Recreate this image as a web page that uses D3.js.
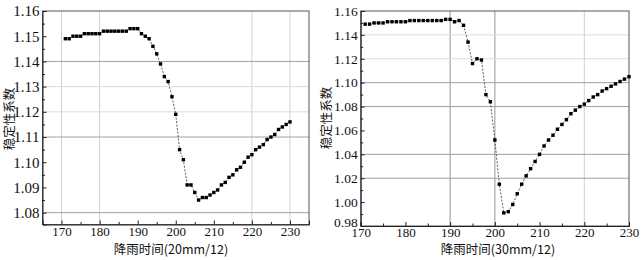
<!DOCTYPE html>
<html>
<head>
<meta charset="utf-8">
<script src="https://d3js.org/d3.v7.min.js"></script>
<style>
 body { margin: 0; background: #fff; }
 .domain { stroke: #222; }
 .tick line { stroke: #222; }
 .tick text { font-family: "Liberation Serif", "Times New Roman", serif !important; fill: #111; }
 .title { font-family: "Noto Sans CJK SC", sans-serif; font-size: 12.5px; fill: #111; }
 .series { fill: none; stroke: #333; stroke-width: 0.8; stroke-dasharray: 2,1.5; }
 .pt { fill: #000; }
</style>
</head>
<body>
<div id="chart"></div>
<script>
// rainfall time steps (same for both panels)
var times = [171,172,173,174,175,176,177,178,179,180,
             181,182,183,184,185,186,187,188,189,190,
             191,192,193,194,195,196,197,198,199,200,
             201,202,203,204,205,206,207,208,209,210,
             211,212,213,214,215,216,217,218,219,220,
             221,222,223,224,225,226,227,228,229,230];

// stability factor, 20mm/12
var fs20 = [1.149,1.149,1.150,1.150,1.150,1.151,1.151,1.151,1.151,1.151,
            1.152,1.152,1.152,1.152,1.152,1.152,1.152,1.153,1.153,1.153,
            1.151,1.150,1.149,1.146,1.143,1.139,1.134,1.132,1.126,1.119,
            1.105,1.101,1.091,1.091,1.088,1.085,1.086,1.086,1.087,1.088,
            1.089,1.091,1.092,1.094,1.095,1.097,1.098,1.100,1.102,1.103,
            1.105,1.106,1.107,1.109,1.110,1.111,1.113,1.114,1.115,1.116];

// stability factor, 30mm/12
var fs30 = [1.149,1.149,1.150,1.150,1.150,1.151,1.151,1.151,1.151,1.151,
            1.152,1.152,1.152,1.152,1.152,1.152,1.152,1.152,1.153,1.153,
            1.151,1.152,1.148,1.134,1.116,1.120,1.119,1.090,1.084,1.052,
            1.015,0.991,0.992,0.998,1.007,1.015,1.022,1.028,1.034,1.040,
            1.047,1.052,1.056,1.061,1.065,1.069,1.074,1.077,1.080,1.082,
            1.085,1.088,1.090,1.093,1.095,1.097,1.099,1.101,1.103,1.105];

var xTicks = [170,180,190,200,210,220,230];
var xMinor = [175,185,195,205,215,225];
var yTicksL = [1.08,1.09,1.10,1.11,1.12,1.13,1.14,1.15,1.16];
var yMinorL = [1.085,1.095,1.105,1.115,1.125,1.135,1.145,1.155];
var yTicksR = [0.98,1.00,1.02,1.04,1.06,1.08,1.10,1.12,1.14,1.16];
var yMinorR = [0.99,1.01,1.03,1.05,1.07,1.09,1.11,1.13,1.15];

// grid lines that show in the figure
var gridXL = [170,180,220,230];
var gridYL_dark = [1.14,1.11,1.08];
var gridYL_light = [1.13,1.12];
var gridXR_dark = [190,200];
var gridXR_light = [220];
var gridYR_dark = [1.10,1.08,1.04,1.02];
var gridYR_light = [1.14,1.12];

var yTitle = "稳定性系数";
var xTitleL = "降雨时间(20mm/12)";
var xTitleR = "降雨时间(30mm/12)";

var serif = "Liberation Serif";

var svg = d3.select("#chart").append("svg")
  .attr("width", 641)
  .attr("height", 260);

function drawPanel(o) {
  var x = d3.scaleLinear().domain(o.xDomain).range([o.left, o.right]);
  var y = d3.scaleLinear().domain(o.yDomain).range([o.bottom, o.top]);
  var g = svg.append("g");

  // grid
  g.selectAll(".gxl").data(o.gridXLight).enter().append("line")
    .attr("x1", d => x(d)).attr("x2", d => x(d))
    .attr("y1", o.top).attr("y2", o.bottom)
    .attr("stroke", "#d0d0d0").attr("stroke-width", 1);
  g.selectAll(".gxd").data(o.gridXDark).enter().append("line")
    .attr("x1", d => x(d)).attr("x2", d => x(d))
    .attr("y1", o.top).attr("y2", o.bottom)
    .attr("stroke", "#a8a8a8").attr("stroke-width", 1.2);
  g.selectAll(".gyl").data(o.gridYLight).enter().append("line")
    .attr("x1", o.left).attr("x2", o.right)
    .attr("y1", d => y(d)).attr("y2", d => y(d))
    .attr("stroke", "#dcdcdc").attr("stroke-width", 1);
  g.selectAll(".gyd").data(o.gridYDark).enter().append("line")
    .attr("x1", o.left).attr("x2", o.right)
    .attr("y1", d => y(d)).attr("y2", d => y(d))
    .attr("stroke", "#a0a0a0").attr("stroke-width", 1);

  // frame
  g.append("rect")
    .attr("x", o.left).attr("y", o.top)
    .attr("width", o.right - o.left).attr("height", o.bottom - o.top)
    .attr("fill", "none").attr("stroke", "#555").attr("stroke-width", 1);

  // axes, ticks pointing inward
  g.append("g")
    .attr("transform", "translate(0," + o.bottom + ")")
    .call(d3.axisBottom(x).tickValues(xTicks).tickSize(-4).tickPadding(2).tickFormat(d3.format("d")))
    .attr("font-family", serif)
    .attr("font-size", o.xFont);
  g.append("g")
    .attr("transform", "translate(0," + o.bottom + ")")
    .call(d3.axisBottom(x).tickValues(xMinor).tickSize(-2.5).tickFormat(""))
    .call(a => a.select(".domain").remove());
  var ya = g.append("g")
    .attr("transform", "translate(" + o.left + ",0)")
    .call(d3.axisLeft(y).tickValues(o.yTicks).tickSize(-4).tickPadding(3).tickFormat(d3.format(".2f")))
    .attr("font-family", serif)
    .attr("font-size", o.yFont);
  // lowest label sits a little above the corner, as in the figure
  ya.selectAll(".tick text").filter(d => d === o.yDomain[0]).attr("dy", "0.05em");
  g.append("g")
    .attr("transform", "translate(" + o.left + ",0)")
    .call(d3.axisLeft(y).tickValues(o.yMinor).tickSize(-2.5).tickFormat(""))
    .call(a => a.select(".domain").remove());

  // series
  var pts = o.times.map((t, i) => ({t: t, v: o.values[i]}));
  g.append("path")
    .datum(pts)
    .attr("class", "series")
    .attr("d", d3.line().x(d => x(d.t)).y(d => y(d.v)));
  g.selectAll(".pt").data(pts).enter().append("rect")
    .attr("class", "pt")
    .attr("x", d => x(d.t) - 1.7).attr("y", d => y(d.v) - 1.7)
    .attr("width", 3.4).attr("height", 3.4);

  // titles
  g.append("text").attr("class", "title")
    .attr("x", o.xTitlePos[0]).attr("y", o.xTitlePos[1])
    .attr("text-anchor", "middle")
    .text(o.xTitle);
  g.append("text").attr("class", "title")
    .attr("transform", "translate(" + o.yTitlePos[0] + "," + o.yTitlePos[1] + ") rotate(-90)")
    .attr("text-anchor", "middle")
    .text(yTitle);
}

drawPanel({
  xDomain: [165, 235], yDomain: [1.0753, 1.16],
  left: 42.5, right: 309, top: 11, bottom: 224.5,
  yTicks: yTicksL, yMinor: yMinorL,
  gridXLight: gridXL, gridXDark: [],
  gridYLight: gridYL_light, gridYDark: gridYL_dark,
  times: times, values: fs20,
  xFont: 13, yFont: 15,
  xTitle: xTitleL, xTitlePos: [171, 254], yTitlePos: [14, 119]
});

drawPanel({
  xDomain: [170, 230], yDomain: [0.98, 1.16],
  left: 360.7, right: 629, top: 11, bottom: 226,
  yTicks: yTicksR, yMinor: yMinorR,
  gridXLight: gridXR_light, gridXDark: gridXR_dark,
  gridYLight: gridYR_light, gridYDark: gridYR_dark,
  times: times, values: fs30,
  xFont: 13, yFont: 13.5,
  xTitle: xTitleR, xTitlePos: [498, 254], yTitlePos: [331, 118]
});
</script>
</body>
</html>
